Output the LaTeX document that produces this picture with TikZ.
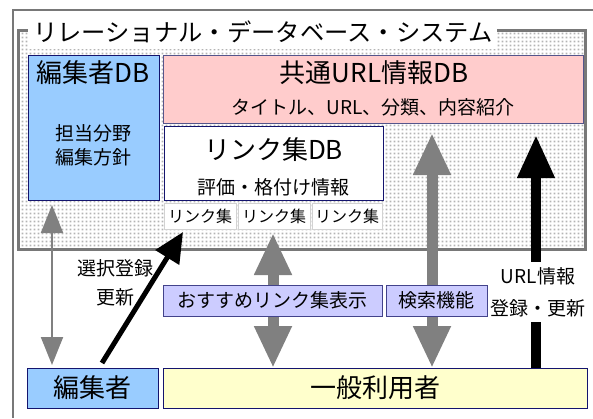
\documentclass[tikz,border=0pt]{standalone}
\usepackage{fontspec}
\setmainfont{Noto Sans CJK JP}
\usetikzlibrary{arrows.meta,calc,patterns.meta}
\definecolor{edblue}{RGB}{153,204,255}
\definecolor{urlpink}{RGB}{255,204,204}
\definecolor{lav}{RGB}{204,204,255}
\definecolor{yel}{RGB}{255,255,204}
\definecolor{navyc}{RGB}{20,20,110}
\definecolor{pinkedge}{RGB}{85,85,140}
\definecolor{sysgray}{RGB}{120,120,120}
\definecolor{arrgray}{RGB}{128,128,128}
\definecolor{dotc}{RGB}{180,180,180}
\tikzdeclarepattern{
  name=dotgrid,
  type=uncolored,
  bottom left={(0pt,0pt)},
  top right={(3.5pt,3.5pt)},
  tile size={(3.5pt,3.5pt)},
  code={\pgfpathrectangle{\pgfpoint{0.75pt}{0.75pt}}{\pgfpoint{2pt}{2pt}}\pgfusepath{fill}}
}
\tikzset{
  box/.style={draw=navyc, line width=1pt, inner sep=0pt, outer sep=0pt, anchor=north west},
  smallbox/.style={draw=gray!35, line width=1pt, fill=white, inner sep=0pt, outer sep=0pt, anchor=north west},
  bigtxt/.style={font=\fontsize{26}{30}\selectfont, inner sep=0pt},
  midtxt/.style={font=\fontsize{19}{24}\selectfont, inner sep=0pt, align=center},
  smalltxt/.style={font=\fontsize{16}{20}\selectfont, inner sep=0pt},
  thinarr/.style={draw=arrgray, line width=2pt, {Triangle[width=22pt,length=28pt]}-{Triangle[width=22pt,length=28pt]}},
  fatarr/.style={draw=arrgray, line width=11pt, {Triangle[width=35pt,length=42pt]}-{Triangle[width=35pt,length=42pt]}},
  blackarr/.style={draw=black, line width=10pt, -{Triangle[width=35pt,length=43pt]}},
  diagarr/.style={draw=black, line width=5pt, -{Triangle[width=27pt,length=30pt]}}
}
\begin{document}
\begin{tikzpicture}[x=1pt,y=-1pt]
\useasboundingbox (0,0) rectangle (593,418);
% outer frame
\draw[sysgray, line width=1.5pt] (593,10) -- (13,10) -- (13,418);
% system area
\node[draw=sysgray, line width=3pt, pattern=dotgrid, pattern color=dotc, anchor=north west,
      minimum width=567pt, minimum height=219pt, inner sep=0pt, outer sep=0pt] (sys) at (18,30) {};
\node[fill=white, anchor=west, inner xsep=5pt, inner ysep=0pt, minimum height=34pt,
      font=\fontsize{24.3}{28}\selectfont] (title) at (28,32) {リレーショナル・データベース・システム};
% DB boxes
\node[box, fill=edblue, minimum width=131pt, minimum height=145pt] (edb) at (28,55) {};
\node[box, draw=pinkedge, fill=urlpink, minimum width=420pt, minimum height=68pt] (url) at (163,55) {};
\node[box, fill=white, minimum width=219pt, minimum height=74pt] (lnk) at (164,126) {};
\node[smallbox, minimum width=72pt, minimum height=26pt] (lk1) at (164,203) {};
\node[smallbox, minimum width=72pt, minimum height=26pt] (lk2) at (238,203) {};
\node[smallbox, minimum width=70pt, minimum height=26pt] (lk3) at (312,203) {};
% lower boxes
\node[box, fill=edblue, minimum width=131pt, minimum height=40pt] (ed) at (27,368) {};
\node[box, fill=yel, minimum width=424pt, minimum height=40pt] (user) at (163,368) {};
% arrows
\draw[thinarr] ($(edb.south west)+(24,5)$) -- ($(ed.north west)+(25,-3)$);
\draw[fatarr] ($(lk2.south)+(-1,4)$) -- ($(user.north west)+(110,0)$);
\draw[fatarr] ($(url.south west)+(269,10)$) -- ($(user.north west)+(269,0)$);
\draw[blackarr] ($(user.north west)+(373,0)$) -- ($(url.south west)+(373,12)$);
\draw[diagarr] ($(ed.north west)+(75,-5)$) -- ($(lk1.south west)+(19,3)$);
% function boxes
\node[box, draw=navyc!80, fill=lav, minimum width=219pt, minimum height=31pt] (rec) at (163,285) {};
\node[box, draw=navyc!80, fill=lav, minimum width=101pt, minimum height=31pt] (srch) at (386,285) {};
% texts
\node[bigtxt] (edbt) at (93,73) {編集者DB};
\node[midtxt] (edbs) at (93,145) {担当分野\\編集方針};
\node[bigtxt] (urlt) at (374,73) {共通URL情報DB};
\node[midtxt] (urls) at (373,107) {タイトル、URL、分類、内容紹介};
\node[bigtxt] (lnkt) at (273.5,150) {リンク集DB};
\node[midtxt] (lnks) at (273.5,187) {評価・格付け情報};
\node[smalltxt] (lk1t) at (lk1) {リンク集};
\node[smalltxt] (lk2t) at (lk2) {リンク集};
\node[smalltxt] (lk3t) at (lk3) {リンク集};
\node[midtxt] (rect) at (rec) {おすすめリンク集表示};
\node[midtxt] (srcht) at (srch) {検索機能};
\node[bigtxt] (edt) at (ed) {編集者};
\node[bigtxt] (usert) at (user) {一般利用者};
\node[midtxt, font=\fontsize{19}{29}\selectfont] (sel) at (115,283) {選択登録\\更新};
\node[midtxt, fill=white, inner xsep=2pt, inner ysep=5pt, font=\fontsize{19}{32}\selectfont] (urllbl) at (538,292) {URL情報\\登録・更新};
\end{tikzpicture}
\end{document}
